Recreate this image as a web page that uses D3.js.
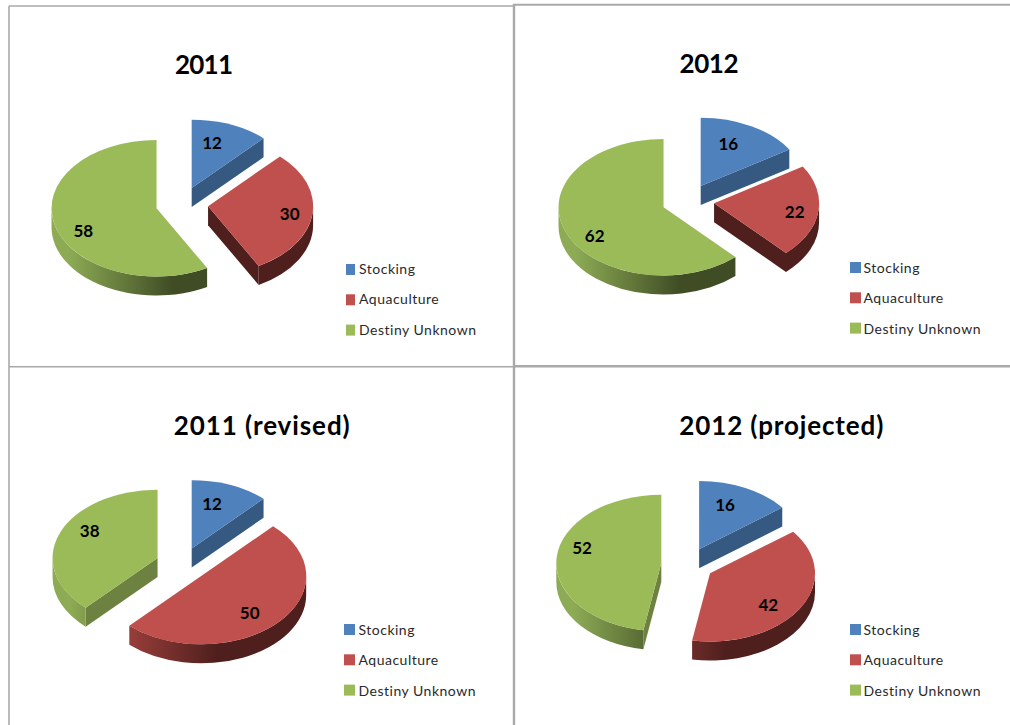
<!DOCTYPE html>
<html>
<head>
<meta charset="utf-8">
<script src="https://cdnjs.cloudflare.com/ajax/libs/d3/7.8.5/d3.min.js"></script>
<style>
html,body{margin:0;padding:0;background:#fff;overflow:hidden}
svg{display:block}
text{font-family:Lato,"Open Sans",sans-serif}
</style>
</head>
<body>
<svg id="chart" width="1010" height="725"></svg>
<script>
// values
const categories = ["Stocking","Aquaculture","Destiny Unknown"];
const titles = ["2011","2012","2011 (revised)","2012 (projected)"];
const stocking = [12,16,12,16];
const aquaculture = [30,22,50,42];
const unknown = [58,62,38,52];

// layout, one entry per panel
const pieCentres = [[182,204],[688,201],[182,564.3],[687.5,564.5]];
const titlePos = [[204,74],[709,73],[261.7,435],[781.3,435]];
const titleWidth = [58,59,176,204];
const legendPos = [[346,264],[850,262],[344,624],[850,624]];
const swatchWidth = [9,11,11,11];
const legendText = [[359,274],[863.5,273],[358.5,635],[863.5,635]];
const labelPos = [
  [[212,142.7],[289.7,213.7],[83.3,230.7]],
  [[728.3,143.7],[794.7,211.7],[594.7,235.7]],
  [[212,503.7],[249.7,612.7],[89.7,530.7]],
  [[725,505],[768.3,604.7],[582,548]]
];
// x1,y1,x2,y2,width
const frameLines = [
  [9,6,513,6,1.5],[513,4.7,1010,4.7,2],
  [9,6,9,725,1.6],[514,4,514,725,2.4],
  [9,366.8,513,366.8,1.5],[514,366.2,1010,366.2,2.4]
];

const RX=105, TILT=0.65, DEPTH=19, EXPLODE=26.3;
const topCol  = ["#4f81bd","#c0504d","#9bbb59"];
const cutCol  = ["#355980","#4e1f1d","#6d8240"];
const wallLit = ["#6e96c8","#a5433f","#8dab55"];
const wallDark= ["#2b4767","#4e1f1d","#3f4c24"];

const svg=d3.select("#chart");
const defs=svg.append("defs");

frameLines.forEach(l=>{
  svg.append("line").attr("x1",l[0]).attr("y1",l[1]).attr("x2",l[2]).attr("y2",l[3])
    .attr("stroke","#a9a9a9").attr("stroke-width",l[4]);
});

const pie=d3.pie().sort(null).value(d=>d);
const arc=d3.arc().innerRadius(0).outerRadius(RX);

function edgePt(cx,cy,a){ return [cx+RX*Math.sin(a), cy-RX*TILT*Math.cos(a)]; }

titles.forEach((title,pi)=>{
  const g=svg.append("g");
  const values=[stocking[pi],aquaculture[pi],unknown[pi]];
  const [c0,c1]=pieCentres[pi];

  pie(values).forEach((s,si)=>{
    const mid=(s.startAngle+s.endAngle)/2;
    const ax=c0+EXPLODE*Math.sin(mid);
    const ay=c1-EXPLODE*TILT*Math.cos(mid);

    // radial cut faces, only those facing the viewer
    [[s.startAngle,Math.sin(s.startAngle)<-1e-6],[s.endAngle,Math.sin(s.endAngle)>1e-6]].forEach(([a,vis])=>{
      if(!vis) return;
      const p=edgePt(ax,ay,a);
      g.append("path")
        .attr("d",`M${ax},${ay}L${p[0]},${p[1]}L${p[0]},${p[1]+DEPTH}L${ax},${ay+DEPTH}Z`)
        .attr("fill",cutCol[si]);
    });

    // outer rim between 90 and 270 degrees
    const a0=Math.max(s.startAngle,Math.PI/2), a1=Math.min(s.endAngle,Math.PI*1.5);
    if(a1>a0){
      const id=`rim${pi}_${si}`;
      const grad=defs.append("linearGradient").attr("id",id)
        .attr("gradientUnits","userSpaceOnUse")
        .attr("x1",ax-RX).attr("x2",ax+RX).attr("y1",0).attr("y2",0);
      grad.append("stop").attr("offset",0.08).attr("stop-color",wallLit[si]);
      grad.append("stop").attr("offset",0.58).attr("stop-color",wallDark[si]);
      const p=edgePt(ax,ay,a0), q=edgePt(ax,ay,a1);
      g.append("path")
        .attr("d",`M${p[0]},${p[1]}A${RX},${RX*TILT} 0 0 1 ${q[0]},${q[1]}L${q[0]},${q[1]+DEPTH}A${RX},${RX*TILT} 0 0 0 ${p[0]},${p[1]+DEPTH}Z`)
        .attr("fill",`url(#${id})`);
    }

    // top face
    g.append("path")
      .attr("transform",`translate(${ax},${ay}) scale(1,${TILT})`)
      .attr("d",arc(s))
      .attr("fill",topCol[si]);
  });

  // value labels
  values.forEach((v,si)=>{
    g.append("text").attr("x",labelPos[pi][si][0]).attr("y",labelPos[pi][si][1]+6)
      .attr("text-anchor","middle").attr("fill","#000")
      .style("font-size","17px").style("font-weight","700")
      .text(v);
  });

  // title
  g.append("text").attr("x",titlePos[pi][0]).attr("y",titlePos[pi][1])
    .attr("text-anchor","middle").attr("fill","#000")
    .attr("textLength",titleWidth[pi]).attr("lengthAdjust","spacing")
    .style("font-size","26px").style("font-weight","700")
    .text(title);

  // legend
  categories.forEach((c,si)=>{
    const y=legendPos[pi][1]+si*30.3;
    g.append("rect").attr("x",legendPos[pi][0]).attr("y",y)
      .attr("width",swatchWidth[pi]).attr("height",11).attr("fill",topCol[si]);
    g.append("text").attr("x",legendText[pi][0]).attr("y",legendText[pi][1]+si*30.3)
      .attr("fill","#2a2a2a").style("font-size","14px").style("letter-spacing","0.5px")
      .text(c);
  });
});
</script>
</body>
</html>
